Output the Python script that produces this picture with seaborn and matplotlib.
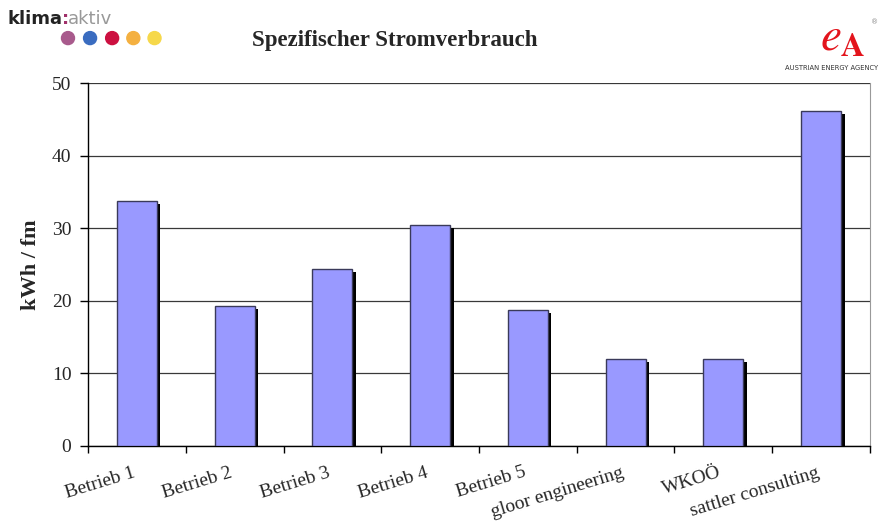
import matplotlib
matplotlib.use("Agg")
import pandas as pd
import seaborn as sns
from matplotlib import pyplot as plt
from matplotlib.patches import Rectangle
from matplotlib.transforms import ScaledTranslation

betriebe = ["Betrieb 1", "Betrieb 2", "Betrieb 3", "Betrieb 4", "Betrieb 5",
            "gloor engineering", "WKOÖ", "sattler consulting"]
verbrauch = [33.8, 19.3, 24.4, 30.5, 18.7, 12.0, 12.0, 46.1]
y_ticks = [0, 10, 20, 30, 40, 50]

df = pd.DataFrame({"betrieb": betriebe, "kwh": verbrauch})

sns.set_style("white")
plt.rcParams["font.family"] = ["Liberation Serif", "DejaVu Serif"]

fig = plt.figure(figsize=(8.83, 5.29), dpi=100)
ax = fig.add_axes([0.0997, 0.157, 0.8855, 0.686])

sns.barplot(data=df, x="betrieb", y="kwh", color="#9999FF", saturation=1,
            width=0.41, edgecolor="#3a3a5a", linewidth=1.0, ax=ax, zorder=3)

# schlagschatten hinter den balken
shift = ScaledTranslation(3.5 / 100, -3 / 100, fig.dpi_scale_trans)
for p in list(ax.patches):
    s = Rectangle((p.get_x(), p.get_y()), p.get_width(), p.get_height(),
                  facecolor="black", edgecolor="none",
                  transform=ax.transData + shift, zorder=2)
    ax.add_patch(s)

ax.set_ylim(0, 50)
ax.set_xlim(-0.5, len(betriebe) - 0.5)
ax.set_yticks(y_ticks)
ax.set_yticklabels([str(t) for t in y_ticks], fontsize=14)
ax.yaxis.grid(True, color="#383838", linewidth=0.9, zorder=1)
ax.set_axisbelow(True)

ax.set_xticks([i - 0.5 for i in range(len(betriebe) + 1)], minor=False)
ax.set_xticklabels([])
ax.set_xticks(range(len(betriebe)), minor=True)
ax.set_xticklabels(betriebe, minor=True, fontsize=14, rotation=17,
                   ha="right", va="top", rotation_mode="anchor")
ax.tick_params(axis="x", which="minor", length=0, pad=13)
ax.tick_params(axis="x", which="major", length=5, width=1, color="black",
               direction="out", bottom=True)
ax.tick_params(axis="y", length=6, width=1, color="black", direction="out",
               left=True, pad=6)
# beschriftung etwas nach links
left = ScaledTranslation(-5 / 100, 0, fig.dpi_scale_trans)
for lbl in ax.get_xticklabels(minor=True):
    lbl.set_transform(lbl.get_transform() + left)

for side in ["left", "bottom"]:
    ax.spines[side].set_color("black")
    ax.spines[side].set_linewidth(1.0)
ax.spines["right"].set_color("#999999")
ax.spines["top"].set_visible(False)

ax.set_xlabel("")
ax.set_ylabel("kWh / fm", fontsize=16, fontweight="bold", labelpad=8)

fig.text(0.447, 0.924, "Spezifischer Stromverbrauch", fontsize=16.5,
         fontweight="bold", ha="center", va="center")

# logo links
fig.text(0.008, 0.964, "klima", fontsize=13, fontweight="bold",
         family="DejaVu Sans", color="#222222", ha="left", va="center")
fig.text(0.0705, 0.964, ":", fontsize=13, fontweight="bold",
         family="DejaVu Sans", color="#a0306a", ha="left", va="center")
fig.text(0.077, 0.964, "aktiv", fontsize=13, family="DejaVu Sans",
         color="#999999", ha="left", va="center")
dot_x = [0.077, 0.102, 0.127, 0.151, 0.175]
dot_c = ["#a85a8c", "#3a6cc0", "#cc1040", "#f4b040", "#f6d84a"]
for x, c in zip(dot_x, dot_c):
    fig.patches.append(plt.Circle((x * 883, 0.928 * 529), 6.5, color=c,
                                  transform=None, figure=fig))

# logo rechts
fig.text(0.955, 0.925, r"$e_{\mathbf{A}}$", fontsize=34, math_fontfamily="stix",
         color="#e3141c", ha="center", va="center")
fig.text(0.889, 0.872, "AUSTRIAN ENERGY AGENCY", fontsize=4.9,
         family="DejaVu Sans", color="#333333", ha="left", va="center")
fig.text(0.990, 0.958, "®", fontsize=5, family="DejaVu Sans",
         color="#888888", ha="center", va="center")

fig.savefig("out.png", dpi=100)
